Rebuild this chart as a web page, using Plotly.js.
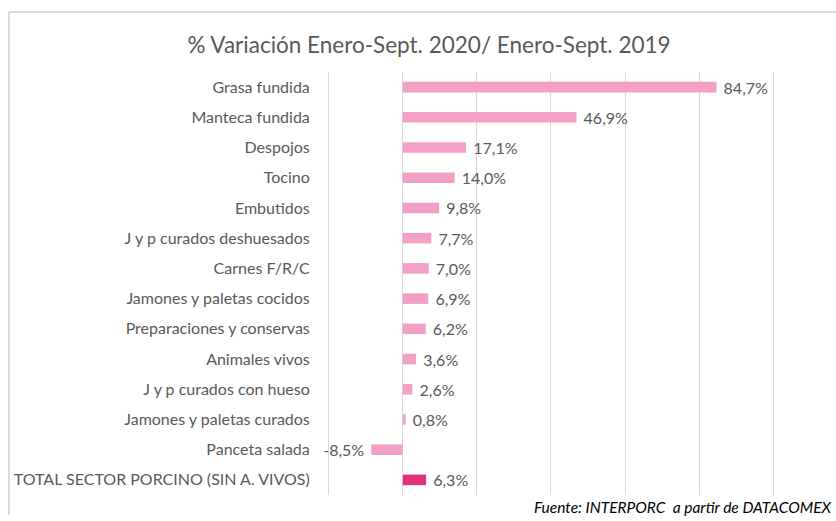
<!DOCTYPE html>
<html>
<head>
<meta charset="utf-8">
<script src="https://cdn.plot.ly/plotly-3.0.1.min.js"></script>
<style>html,body{margin:0;padding:0;background:#fff;}#chart{width:836px;height:521px;}</style>
</head>
<body>
<div id="chart"></div>
<script>
var categories = [
  "Grasa fundida",
  "Manteca fundida",
  "Despojos",
  "Tocino",
  "Embutidos",
  "J y p curados deshuesados",
  "Carnes F/R/C",
  "Jamones y paletas cocidos",
  "Preparaciones y conservas",
  "Animales vivos",
  "J y p curados con hueso",
  "Jamones y paletas curados",
  "Panceta salada",
  "TOTAL SECTOR PORCINO (SIN A. VIVOS)"
];
var values = [84.7, 46.9, 17.1, 14.0, 9.8, 7.7, 7.0, 6.9, 6.2, 3.6, 2.6, 0.8, -8.5, 6.3];

var labels = values.map(function(v){
  var s = v.toFixed(1).replace('.', ',') + '%';
  return v < 0 ? s + ' ' : ' ' + s;
});
var colors = categories.map(function(c, i){
  return i === categories.length - 1 ? '#E2307A' : '#F3A0C6';
});

var FONT = 'Lato, sans-serif';
var L = 325, R = 775, T = 72, B = 495;
var PW = R - L, PH = B - T;

var trace = {
  type: 'bar',
  orientation: 'h',
  y: categories,
  x: values,
  text: labels,
  textposition: 'outside',
  constraintext: 'none',
  cliponaxis: false,
  textfont: {family: FONT, size: 16, color: '#595959'},
  marker: {color: colors},
  width: 0.35,
  hoverinfo: 'none'
};

var layout = {
  width: 836,
  height: 521,
  margin: {l: L, r: 836 - R, t: T, b: 521 - B},
  paper_bgcolor: '#ffffff',
  plot_bgcolor: '#ffffff',
  showlegend: false,
  font: {family: FONT, color: '#595959', size: 16},
  title: {
    text: '% Variación Enero-Sept. 2020/ Enero-Sept. 2019',
    font: {family: FONT, size: 22.5, color: '#595959'},
    x: 429/836, xanchor: 'center', xref: 'container',
    y: 1 - 45/521, yanchor: 'middle', yref: 'container'
  },
  xaxis: {
    range: [-21, 100.5],
    dtick: 20,
    tick0: 0,
    showticklabels: false,
    showgrid: true,
    gridcolor: '#D9D9D9',
    gridwidth: 1,
    zeroline: true,
    zerolinecolor: '#D9D9D9',
    zerolinewidth: 1,
    showline: false,
    fixedrange: true
  },
  yaxis: {
    type: 'category',
    range: [13.5, -0.5],
    showgrid: false,
    zeroline: false,
    showline: false,
    ticks: 'outside',
    ticklen: 11,
    tickcolor: 'rgba(0,0,0,0)',
    tickfont: {family: FONT, size: 16, color: '#595959'},
    fixedrange: true
  },
  shapes: [
    {type: 'line', xref: 'paper', yref: 'paper', x0: (9 - L)/PW, x1: (840 - L)/PW, y0: 1 + (T - 12)/PH, y1: 1 + (T - 12)/PH, line: {color: '#CFCFCF', width: 1.5}},
    {type: 'line', xref: 'paper', yref: 'paper', x0: (9 - L)/PW, x1: (9 - L)/PW, y0: 1 + (T - 12)/PH, y1: -(515 - B)/PH, line: {color: '#CFCFCF', width: 1.5}}
  ],
  annotations: [
    {
      text: '<i>Fuente: INTERPORC  a partir de DATACOMEX</i>',
      xref: 'paper', yref: 'paper',
      x: (834 - L)/PW, xanchor: 'right',
      y: -(507 - B)/PH, yanchor: 'middle',
      showarrow: false,
      font: {family: FONT, size: 15.5, color: '#000000'}
    }
  ]
};

Plotly.newPlot('chart', [trace], layout, {displayModeBar: false, staticPlot: true});
</script>
</body>
</html>
